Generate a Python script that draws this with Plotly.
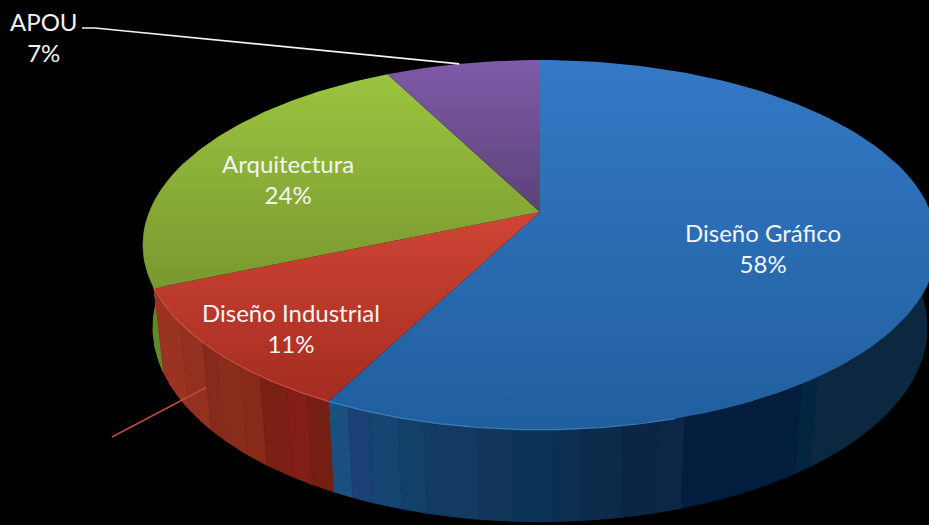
import numpy as np
import plotly.graph_objects as go

# Enrolment shares per programme, clockwise from twelve o'clock
categories = ["Diseño Gráfico", "Diseño Industrial", "Arquitectura", "APOU"]
shares = [58, 11, 24, 7]

# Vertical gradients of the top face (back edge to front edge of each slice)
top_back = ["#3479c6", "#cf4535", "#9ac43f", "#7f5aa8"]
top_front = ["#205f9e", "#a32c20", "#7a9830", "#5c4278"]

# Side-wall shading, listed left to right along the visible front of each slice
wall_blue = ["#1a5080", "#1b4076", "#154570", "#134068", "#123a62", "#113659", "#0b3358",
             "#0c2f50", "#0c2b4a", "#0b2547", "#0c2746", "#021d3d", "#022540", "#0c2840"]
wall_blue_stops = [348, 370, 398, 424, 477, 513, 553, 581, 623, 657, 685, 802, 818]
wall_red = ["#9a3322", "#93301f", "#862a1c", "#8a2c1c", "#882a1a", "#7c2016", "#821e15", "#751f12"]
wall_red_stops = [180, 203, 217, 240, 260, 287, 307]
wall_green = ["#5f8a28", "#557a22"]

# Projection of the tilted disc
APEX_X, APEX_Y = 540, 212
SCALE_X, SCALE_Y, TILT = 390.6, 179, 0.178
BASE_SX, BASE_SY, BASE_Y = 0.975, 1.05, 293
VIEW_TWIST = np.radians(1.7)


def rim(theta):
    # Small angular twist away from the twelve o'clock seam
    theta = theta - VIEW_TWIST * np.clip(theta / np.radians(60), 0, 1) * np.clip((2 * np.pi - theta) / np.radians(15), 0, 1)
    u, v = np.sin(theta), np.cos(theta)
    w = 1 + TILT * v
    return APEX_X + SCALE_X * u / w, APEX_Y - SCALE_Y * v / w


def base(theta):
    x, y = rim(theta)
    return APEX_X + BASE_SX * (x - APEX_X), BASE_Y + BASE_SY * (y - APEX_Y)


edges = np.radians(np.cumsum([0] + shares) * 3.6)
fig = go.Figure()


def wall_band(a, b, color):
    t = np.linspace(a, b, 24)
    xt, yt = rim(t)
    xb, yb = base(t[::-1])
    fig.add_trace(go.Scatter(
        x=np.r_[xt, xb], y=np.r_[yt, yb], mode="lines", fill="toself",
        fillcolor=color, line=dict(color=color, width=1), hoverinfo="skip", showlegend=False))


# Rim x to angle lookup along the front arc, where x falls as the angle grows
front = np.linspace(np.radians(60), np.radians(255), 800)
front_x = rim(front)[0]


def wall(a, b, colors, stops):
    # Shades run left to right, angles right to left
    inner = [float(np.interp(-s, -front_x, front)) for s in stops]
    steps = [b] + inner + [a]
    for i, c in enumerate(colors):
        wall_band(steps[i + 1], steps[i], c)


# Side walls sit underneath the top faces
green_steps = np.linspace(edges[2], edges[2] + np.radians(40), len(wall_green) + 1)
for i, c in enumerate(wall_green):
    wall_band(green_steps[i], green_steps[i + 1], c)
wall(np.radians(75), edges[1], wall_blue, wall_blue_stops)
wall(edges[1], edges[2], wall_red, wall_red_stops)

# Top faces
for i, name in enumerate(categories):
    t = np.linspace(edges[i], edges[i + 1], 120)
    x, y = rim(t)
    ys = np.r_[APEX_Y, y, APEX_Y]
    fig.add_trace(go.Scatter(
        x=np.r_[APEX_X, x, APEX_X], y=ys, mode="lines", name=name,
        fill="toself", line=dict(width=0, color=top_back[i]), hoverinfo="skip", showlegend=False,
        fillgradient=dict(type="vertical", start=float(ys.min()), stop=float(ys.max()),
                          colorscale=[[0, top_back[i]], [1, top_front[i]]])))

# Light catch along the front rim
for a, b, c in [(np.radians(165), edges[1], "#4489c8"), (edges[1], edges[2], "#d4594a")]:
    t = np.linspace(a, b, 80)
    x, y = rim(t)
    fig.add_trace(go.Scatter(x=x, y=y, mode="lines", line=dict(color=c, width=1.2),
                             opacity=0.8, hoverinfo="skip", showlegend=False))

# Leader lines
apou_mid = (edges[3] + edges[4]) / 2
lx, ly = rim(apou_mid)
fig.add_trace(go.Scatter(x=[82, 95, lx], y=[28, 28, ly], mode="lines",
                         line=dict(color="#f2f2f2", width=1.6), hoverinfo="skip", showlegend=False))
red_anchor = edges[1] + 0.58 * (edges[2] - edges[1])
rx, ry = rim(red_anchor)
bx, by = base(red_anchor)
fig.add_trace(go.Scatter(x=[(rx + bx) / 2, 112], y=[(ry + by) / 2 + 2, 437], mode="lines",
                         line=dict(color="#c0483c", width=1.6), hoverinfo="skip", showlegend=False))

# Slice labels
label_pos = [(763, 248), (291, 328), (288, 179), (44, 37)]
annotations = [
    dict(x=px, y=py, text=f"{name}<br>{share}%", showarrow=False,
         font=dict(family="Lato", size=24, color="#f4f4f4"), align="center", xanchor="center", yanchor="middle")
    for name, share, (px, py) in zip(categories, shares, label_pos)
]

fig.update_layout(
    width=929, height=525, margin=dict(l=0, r=0, t=0, b=0),
    paper_bgcolor="#000000", plot_bgcolor="#000000", showlegend=False,
    xaxis=dict(range=[0, 929], visible=False, fixedrange=True),
    yaxis=dict(range=[525, 0], visible=False, fixedrange=True),
    annotations=annotations,
)
fig.write_html("out.html", config=dict(displayModeBar=False))
